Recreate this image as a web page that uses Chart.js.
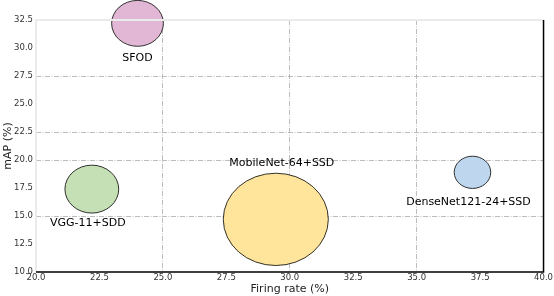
<!DOCTYPE html>
<html>
<head>
<meta charset="utf-8">
<script src="https://cdn.jsdelivr.net/npm/chart.js@4.4.0/dist/chart.umd.min.js"></script>
<style>
  html, body { margin: 0; padding: 0; background: #fff; }
  #wrap { width: 554px; height: 296px; }
</style>
</head>
<body>
<div id="wrap"><canvas id="myChart" width="554" height="296"></canvas></div>
<script>
// models and their values
const models = ["SFOD", "VGG-11+SDD", "MobileNet-64+SSD", "DenseNet121-24+SSD"];
const firingRate = [24.0, 22.2, 29.45, 37.2];
const mAP = [32.2, 17.4, 14.7, 18.9];
// half width / half height of each bubble, in axis units
const halfWidth = [1.02, 1.06, 2.07, 0.72];
const halfHeight = [2.05, 2.14, 4.12, 1.44];
const fills = ["#e2b7d5", "#c6e0b5", "#fee59b", "#bed7ee"];

const xTicks = [20, 22.5, 25, 27.5, 30, 32.5, 35, 37.5, 40];
const yTicks = [10, 12.5, 15, 17.5, 20, 22.5, 25, 27.5, 30, 32.5];
const xGridAt = [25, 30, 35];
const yGridAt = [15, 20, 22.5, 27.5];

const font = "'DejaVu Sans', sans-serif";

const points = [];
for (var i = 0; i < models.length; i++) {
  points.push({ x: firingRate[i], y: mAP[i], r: 0 });
}

// where each name sits relative to its bubble (pixels)
const labelPlace = [
  { side: "below", dx: 0, gap: 12 },
  { side: "below", dx: -4, gap: 10 },
  { side: "above", dx: 6, gap: 10 },
  { side: "below", dx: -4, gap: 14 },
];

const ellipsePlugin = {
  id: "ellipses",
  afterDatasetsDraw(chart) {
    const ctx = chart.ctx;
    const xs = chart.scales.x;
    const ys = chart.scales.y;
    const meta = chart.getDatasetMeta(0);
    ctx.save();
    meta.data.forEach(function (pt, i) {
      const rx = Math.abs(xs.getPixelForValue(firingRate[i] + halfWidth[i]) - pt.x);
      const ry = Math.abs(ys.getPixelForValue(mAP[i] + halfHeight[i]) - pt.y);
      ctx.beginPath();
      ctx.ellipse(pt.x, pt.y, rx, ry, 0, 0, Math.PI * 2);
      ctx.fillStyle = fills[i];
      ctx.fill();
      ctx.lineWidth = 0.8;
      ctx.strokeStyle = "#000";
      ctx.stroke();
    });
    ctx.font = "11px " + font;
    ctx.fillStyle = "#000";
    ctx.textAlign = "center";
    ctx.textBaseline = "middle";
    meta.data.forEach(function (pt, i) {
      const ry = Math.abs(ys.getPixelForValue(mAP[i] + halfHeight[i]) - pt.y);
      const p = labelPlace[i];
      const ty = p.side === "below" ? pt.y + ry + p.gap : pt.y - ry - p.gap;
      ctx.fillText(models[i], pt.x + p.dx, ty);
    });
    ctx.restore();
  },
  afterDraw(chart) {
    const ctx = chart.ctx;
    const a = chart.chartArea;
    ctx.save();
    ctx.lineWidth = 2;
    ctx.strokeStyle = "#ebebeb";
    ctx.beginPath();
    ctx.moveTo(a.left, a.bottom);
    ctx.lineTo(a.left, a.top);
    ctx.lineTo(a.right, a.top);
    ctx.stroke();
    ctx.lineWidth = 1.5;
    ctx.strokeStyle = "#000";
    ctx.beginPath();
    ctx.moveTo(a.left, a.bottom);
    ctx.lineTo(a.right, a.bottom);
    ctx.lineTo(a.right, a.top);
    ctx.stroke();
    ctx.restore();
  },
};

const config = {
  type: "bubble",
  data: {
    datasets: [
      {
        label: "models",
        data: points,
        backgroundColor: "rgba(0,0,0,0)",
        borderWidth: 0,
      },
    ],
  },
  options: {
    responsive: false,
    animation: false,
    layout: { padding: { top: 20, right: 10, left: 0, bottom: 0 } },
    plugins: {
      legend: { display: false },
      tooltip: { enabled: false },
    },
    scales: {
      x: {
        type: "linear",
        min: 20,
        max: 40,
        afterBuildTicks: function (scale) {
          scale.ticks = xTicks.map(function (v) { return { value: v }; });
        },
        afterFit: function (scale) { scale.height = 24; },
        ticks: {
          autoSkip: false,
          maxRotation: 0,
          padding: 1,
          color: "#333",
          font: { family: font, size: 8.5 },
          callback: function (v) { return v.toFixed(1); },
        },
        grid: {
          drawTicks: false,
          lineWidth: 0.8,
          color: function (c) {
            return c.tick && xGridAt.indexOf(c.tick.value) >= 0 ? "#acacac" : "rgba(0,0,0,0)";
          },
        },
        border: { display: false, dash: [5, 1.5, 1, 1.5] },
        title: {
          display: true,
          text: "Firing rate (%)",
          color: "#222",
          font: { family: font, size: 11 },
          padding: { top: 0, bottom: 0 },
        },
      },
      y: {
        type: "linear",
        min: 10,
        max: 32.5,
        afterBuildTicks: function (scale) {
          scale.ticks = yTicks.map(function (v) { return { value: v }; });
        },
        afterFit: function (scale) { scale.width = 36; },
        ticks: {
          autoSkip: false,
          padding: 3,
          color: "#333",
          font: { family: font, size: 8.5 },
          callback: function (v) { return v.toFixed(1); },
        },
        grid: {
          drawTicks: false,
          lineWidth: 0.8,
          color: function (c) {
            return c.tick && yGridAt.indexOf(c.tick.value) >= 0 ? "#acacac" : "rgba(0,0,0,0)";
          },
        },
        border: { display: false, dash: [5, 1.5, 1, 1.5] },
        title: {
          display: true,
          text: "mAP (%)",
          color: "#222",
          font: { family: font, size: 11 },
          padding: { top: 2, bottom: 0 },
        },
      },
    },
  },
  plugins: [ellipsePlugin],
};

new Chart(document.getElementById("myChart"), config);
</script>
</body>
</html>
